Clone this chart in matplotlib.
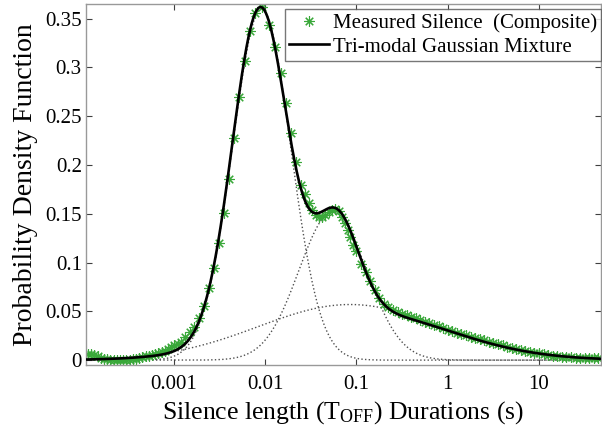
import numpy as np
import matplotlib
matplotlib.use('Agg')
import matplotlib.pyplot as plt
from matplotlib.ticker import FixedLocator, FixedFormatter, NullLocator

plt.rcParams['font.family'] = ['Liberation Serif', 'DejaVu Serif']
plt.rcParams['mathtext.fontset'] = 'custom'
plt.rcParams['mathtext.rm'] = 'Liberation Serif'
plt.rcParams['mathtext.it'] = 'Liberation Serif:italic'

# measured silence pdf, x given as log10 of duration in seconds
star_log_t = [
    -3.94, -3.905, -3.87, -3.835, -3.80, -3.765, -3.73, -3.695, -3.66, -3.625,
    -3.59, -3.555, -3.52, -3.485, -3.45, -3.415, -3.38, -3.345, -3.31, -3.275,
    -3.24, -3.205, -3.17, -3.135, -3.10, -3.065, -3.03, -2.995, -2.96,
    -2.923, -2.88, -2.828, -2.778, -2.723, -2.669, -2.614, -2.56, -2.501, -2.45,
    -2.391, -2.341, -2.282, -2.224, -2.166, -2.111, -2.035, -1.958, -1.896, -1.831,
    -1.776, -1.721, -1.667, -1.604,
    -1.56, -1.521, -1.485, -1.448, -1.41, -1.375, -1.34, -1.303, -1.265, -1.23,
    -1.19, -1.156, -1.125, -1.095, -1.066, -1.035,
    -1.00, -0.95, -0.90, -0.85, -0.80, -0.75, -0.70, -0.65, -0.60, -0.55,
    -0.50, -0.45, -0.40, -0.35, -0.30, -0.25, -0.20, -0.15, -0.10, -0.05,
    0.00, 0.05, 0.10, 0.15, 0.20, 0.25, 0.30, 0.35, 0.40, 0.45,
    0.50, 0.55, 0.60, 0.65, 0.70, 0.75, 0.80, 0.85, 0.90, 0.95,
    1.00, 1.05, 1.10, 1.15, 1.20, 1.25, 1.30, 1.35, 1.40, 1.45,
    1.50, 1.55, 1.60, 1.65,
]
star_pdf = [
    0.0060, 0.0065, 0.0050, 0.0040, 0.0025, 0.0015, 0.0008, 0.0003, 0.0000, -0.0002,
    0.0000, 0.0000, 0.0002, 0.0005, 0.0010, 0.0015, 0.0020, 0.0030, 0.0038, 0.0045,
    0.0052, 0.0060, 0.0070, 0.0080, 0.0095, 0.0110, 0.0130, 0.0150, 0.0170,
    0.0190, 0.0242, 0.0293, 0.0344, 0.0430, 0.0556, 0.0744, 0.0949, 0.1205, 0.1506,
    0.1860, 0.2280, 0.2695, 0.3070, 0.3370, 0.3560, 0.3617, 0.3435, 0.3207, 0.2940,
    0.2633, 0.2326, 0.2035, 0.1796,
    0.1700, 0.1610, 0.1540, 0.1489, 0.1470, 0.1471, 0.1490, 0.1523, 0.1540, 0.1550,
    0.1530, 0.1470, 0.1410, 0.1335, 0.1260, 0.1180,
    0.1120, 0.0990, 0.0900, 0.0810, 0.0720, 0.0640, 0.0580, 0.0540, 0.0510, 0.0490,
    0.0470, 0.0460, 0.0445, 0.0430, 0.0410, 0.0395, 0.0380, 0.0365, 0.0350, 0.0330,
    0.0310, 0.0295, 0.0280, 0.0268, 0.0255, 0.0242, 0.0230, 0.0216, 0.0203, 0.0190,
    0.0177, 0.0164, 0.0151, 0.0139, 0.0127, 0.0116, 0.0104, 0.0094, 0.0085, 0.0076,
    0.0068, 0.0060, 0.0053, 0.0047, 0.0041, 0.0036, 0.0032, 0.0029, 0.0026, 0.0024,
    0.0022, 0.0021, 0.0020, 0.0019,
]

# fitted tri-modal mixture (log10 domain): weight, centre, width
mix_weight = [0.333, 0.100, 0.050]
mix_center = [-2.06, -1.22, -1.00]
mix_width = [0.30, 0.24, 1.00]

# individual components as drawn (dotted)
comp_peak = [0.360, 0.152, 0.057]
comp_center = [-2.04, -1.26, -1.07]
comp_width = [0.32, 0.37, 1.00]

xtick_vals = [0.001, 0.01, 0.1, 1, 10]
xtick_labels = ['0.001', '0.01', '0.1', '1', '10']
ytick_vals = [0, 0.05, 0.1, 0.15, 0.2, 0.25, 0.3, 0.35]
ytick_labels = ['0', '0.05', '0.1', '0.15', '0.2', '0.25', '0.3', '0.35']


def gauss(logt, peak, center, width):
    return peak * np.exp(-(logt - center) ** 2 / (2 * width ** 2))


log_lo, log_hi = -3.963, 1.679
log_grid = np.linspace(log_lo, log_hi, 800)
t_grid = 10 ** log_grid

fig = plt.figure(figsize=(6.02, 4.36), dpi=100)
ax = fig.add_axes([86 / 602, 1 - 365 / 436, 515 / 602, 361 / 436])
ax.set_xscale('log')

for p, c, w in zip(comp_peak, comp_center, comp_width):
    ax.plot(t_grid, gauss(log_grid, p, c, w), ls=':', color='#505050', lw=1.0, zorder=1)

ax.plot(10 ** np.array(star_log_t), star_pdf, ls='none', marker=(8, 2, 0),
        ms=7.5, mew=0.8, color='#3aa83a', zorder=2,
        label='Measured Silence  (Composite)')

mix = np.zeros_like(log_grid)
for a, c, w in zip(mix_weight, mix_center, mix_width):
    mix += gauss(log_grid, a, c, w)
ax.plot(t_grid, mix, color='black', lw=1.9, zorder=3, label='Tri-modal Gaussian Mixture')

ax.set_xlim(10 ** log_lo, 10 ** log_hi)
ax.set_ylim(-0.005, 0.365)
ax.xaxis.set_major_locator(FixedLocator(xtick_vals))
ax.xaxis.set_major_formatter(FixedFormatter(xtick_labels))
ax.xaxis.set_minor_locator(NullLocator())
ax.yaxis.set_major_locator(FixedLocator(ytick_vals))
ax.yaxis.set_major_formatter(FixedFormatter(ytick_labels))

ax.tick_params(axis='both', direction='in', length=4, width=0.8, color='#404040',
               labelsize=15, top=True, right=True)
ax.tick_params(axis='x', pad=7)
ax.tick_params(axis='y', pad=3)
for s in ax.spines.values():
    s.set_color('#999999')
    s.set_linewidth(1.0)

ax.set_xlabel('Silence length (T$_{\\mathrm{OFF}}$) Durations (s)', fontsize=18.5, va='top')
ax.xaxis.set_label_coords(0.5, -0.095)
ax.set_ylabel('Probability Density Function', fontsize=20, va='center')
ax.yaxis.set_label_coords(-0.118, 0.5)

leg = ax.legend(loc='upper right', bbox_to_anchor=(1.0, 0.986), borderaxespad=0,
                fontsize=15, frameon=True, fancybox=False, borderpad=0.2,
                labelspacing=0.2, handlelength=1.9, handletextpad=0.2)
leg.get_frame().set_edgecolor('#555555')
leg.get_frame().set_linewidth(1.0)

fig.savefig('out.png', dpi=100)
